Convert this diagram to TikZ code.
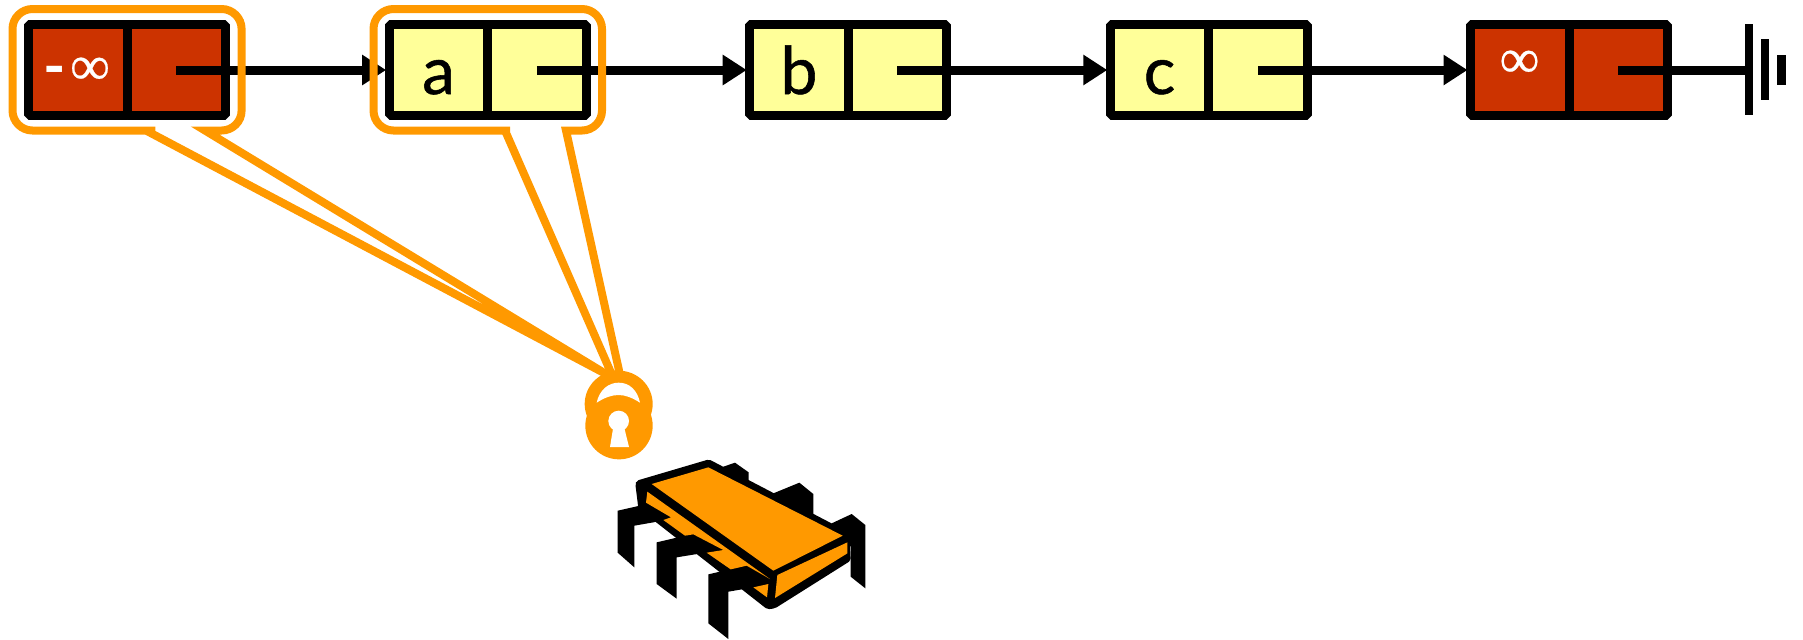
\documentclass[tikz,border=0pt]{standalone}
\usepackage{fontspec}
\setmainfont{Lato}
\newfontfamily\keyfont[FakeBold=0.8]{Lato}
\newfontfamily\inffont[FakeBold=0.4]{Liberation Serif}
\usetikzlibrary{arrows.meta}
\definecolor{nodered}{HTML}{CC3300}
\definecolor{nodeyellow}{HTML}{FFFF99}
\definecolor{lockorange}{HTML}{FF9900}
\tikzset{
  halfcell/.style={draw=black,line width=4.5pt,line join=bevel,minimum width=49.25pt,minimum height=45.5pt,inner sep=0,outer sep=0},
  sentinel/.style={halfcell,fill=nodered},
  plain/.style={halfcell,fill=nodeyellow},
  link/.style={line width=4.5pt,black,-{Triangle[length=12pt,width=14.5pt]},shorten >=1.5pt},
  wire/.style={line width=4.5pt,black},
  hand/.style={line width=4pt,lockorange,line join=miter,miter limit=30},
  key/.style={inner sep=0,anchor=base,font=\keyfont\fontsize{33}{33}\selectfont,text=black},
  infin/.style={inner sep=0,text=white,font=\inffont\fontsize{28}{28}\selectfont},
  chipblack/.style={fill=black},
  chiporange/.style={fill=lockorange},
}
\begin{document}
\begin{tikzpicture}[x=0.5pt,y=-0.5pt]
\useasboundingbox (0,0) rectangle (1803,639);

% list nodes, each a key cell and a pointer cell
\node[sentinel] (k0) at (77.75,69.5) {};
\node[sentinel] (p0) at (176.25,69.5) {};
\node[plain]    (k1) at (438.35,69.5) {};
\node[plain]    (p1) at (536.85,69.5) {};
\node[plain]    (k2) at (798.95,69.5) {};
\node[plain]    (p2) at (897.45,69.5) {};
\node[plain]    (k3) at (1159.55,69.5) {};
\node[plain]    (p3) at (1258.05,69.5) {};
\node[sentinel] (k4) at (1519.75,69.5) {};
\node[sentinel] (p4) at (1618.25,69.5) {};

% keys
\node[inner sep=0,anchor=base,text=white,font=\fontsize{30}{30}\bfseries\selectfont] (minus) at (54.5,87) {-};
\node[infin] (inf0) at (90,71) {∞};
\node[key] (la) at (438.5,94) {a};
\node[key] (lb) at (799,94) {b};
\node[key] (lc) at (1159.5,94) {c};
\node[infin] (inf4) at (1519.5,64) {∞};

% forward pointers
\draw[link] (p0.center) ++(0,0.5) -- (k1.west |- 0,70);
\draw[link] (p1.center) ++(0,0.5) -- (k2.west |- 0,70);
\draw[link] (p2.center) ++(0,0.5) -- (k3.west |- 0,70);
\draw[link] (p3.center) ++(0,0.5) -- (k4.west |- 0,70);

% null terminator
\coordinate (gnd) at (1749,70);
\draw[wire] (p4.center) ++(0,0.5) -- (gnd);
\fill[black] (1745,24) rectangle (1753,115);
\fill[black] (1761,39) rectangle (1769,100);
\fill[black] (1777,55) rectangle (1786,85);

% lock hand-over-hand outlines
\coordinate (tipA) at (606,374);
\coordinate (tipB) at (612,375);
\coordinate (tipC) at (620,375);
\draw[hand] (tipA) -- (205,130.5) [rounded corners=10pt] -- (241.6,130.5) -- (241.6,9) -- (12.5,9) -- (12.5,130.5) -- (167,130.5) [sharp corners] -- (146,130.5) -- cycle;
\draw[hand] (tipC) -- (566,130.5) [rounded corners=10pt] -- (602,130.5) -- (602,9) -- (373.5,9) -- (373.5,130.5) -- (490,130.5) [sharp corners] -- (505,130.5) -- (tipB);

% padlock and thread, laid out on a finer grid
\begin{scope}[shift={(560,360)},x=0.16667pt,y=-0.16667pt]
  \fill[lockorange] (176,132) circle [x radius=102,y radius=100];
  \fill[lockorange] (177,197) circle [x radius=101,y radius=101];
  \fill[white] (110,128) .. controls (118,90) and (145,68) .. (176,68) .. controls (208,68) and (232,90) .. (240,128) .. controls (215,112) and (195,105) .. (176,105) .. controls (155,105) and (135,112) .. (110,128) -- cycle;
  \fill[white] (176,183) circle [radius=31];
  \fill[white] (160,200) -- (192,200) -- (207,261) -- (150,261) -- cycle;

  % rear legs
  \fill[chipblack] (490,320) -- (525,308) -- (566,337) -- (566,380) -- (480,340) -- cycle;
  \fill[chipblack] (640,400) -- (718,368) -- (760,402) -- (760,480) -- (640,420) -- cycle;
  \fill[chipblack] (815,490) -- (875,462) -- (916,495) -- (916,685) -- (872,650) -- (872,560) -- cycle;
  % body
  \fill[chipblack,rounded corners=1pt] (226,372) -- (230,362) -- (447,298) -- (868,518) -- (872,602) -- (645,745) -- (622,748) -- (235,445) -- cycle;
  % front legs
  \fill[chipblack] (173,452) -- (235,438) -- (280,460) -- (333,472) -- (305,482) -- (280,487) -- (223,497) -- (223,622) -- (173,578) -- cycle;
  \fill[chipblack] (290,547) -- (375,527) -- (400,523) -- (490,570) -- (440,578) -- (405,583) -- (350,592) -- (350,716) -- (290,672) -- cycle;
  \fill[chipblack] (445,643) -- (510,628) -- (560,617) -- (630,655) -- (625,672) -- (580,682) -- (505,695) -- (505,837) -- (445,790) -- cycle;
  % faces
  \fill[chiporange] (275,372) -- (445,322) -- (848,527) -- (640,632) -- cycle;
  \fill[chiporange] (652,645) -- (862,547) -- (862,580) -- (645,714) -- cycle;
  \fill[chiporange] (262,395) -- (630,657) -- (560,617) -- (512,628) -- (440,578) -- (490,570) -- (400,523) -- (375,527) -- (310,480) -- (333,472) -- (258,428) -- cycle;
  \fill[chiporange] (580,682) -- (625,672) -- (621,712) -- cycle;
\end{scope}
\end{tikzpicture}
\end{document}
